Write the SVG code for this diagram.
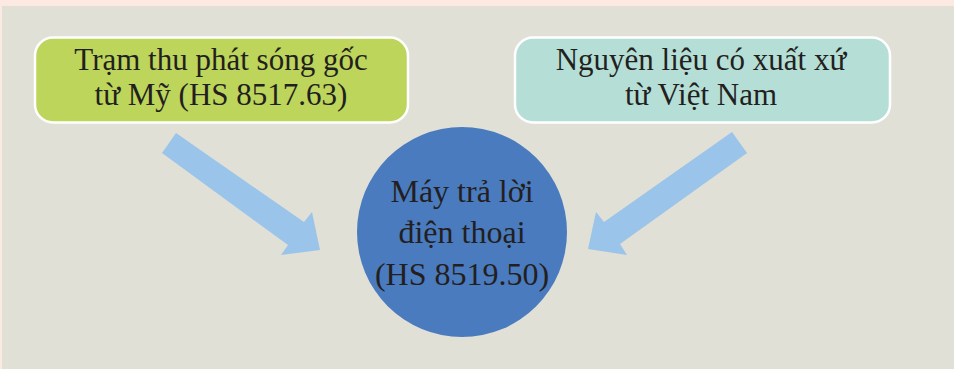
<svg xmlns="http://www.w3.org/2000/svg" width="954" height="369" viewBox="0 0 954 369">
<style>
.t{font-family:"Liberation Serif","Times New Roman",serif;fill:#231f20;text-anchor:middle}
.box{stroke:#ffffff;stroke-width:2.5}
.arr{fill:#9ac4e9}
</style>
<rect x="0" y="0" width="954" height="369" fill="#fbe9e2"/>
<rect x="2" y="6" width="952" height="363" fill="#e1e0d6"/>
<g id="connectors">
<polygon class="arr" points="162,153 176,133 304,222 312,212 320,250 281,255 288,245"/>
<polygon class="arr" points="747,153 732,132 604,222 596,212 588,249 627,255 620,244"/>
</g>
<g id="node-tram">
<rect class="box" x="35" y="37.5" width="373" height="85" rx="18" fill="#bdd55b"/>
<text class="t" x="221" y="70" font-size="31">Trạm thu phát sóng gốc</text>
<text class="t" x="221" y="105" font-size="31">từ Mỹ (HS 8517.63)</text>
</g>
<g id="node-nguyenlieu">
<rect class="box" x="515" y="37.5" width="375" height="85" rx="18" fill="#b5dfd6"/>
<text class="t" x="701" y="70" font-size="31">Nguyên liệu có xuất xứ</text>
<text class="t" x="701" y="105" font-size="31">từ Việt Nam</text>
</g>
<g id="node-may">
<circle cx="462" cy="232" r="105" fill="#4a7bbf"/>
<text class="t" x="462" y="202" font-size="32">Máy trả lời</text>
<text class="t" x="462" y="243" font-size="32">điện thoại</text>
<text class="t" x="462" y="285" font-size="32">(HS 8519.50)</text>
</g>
</svg>
